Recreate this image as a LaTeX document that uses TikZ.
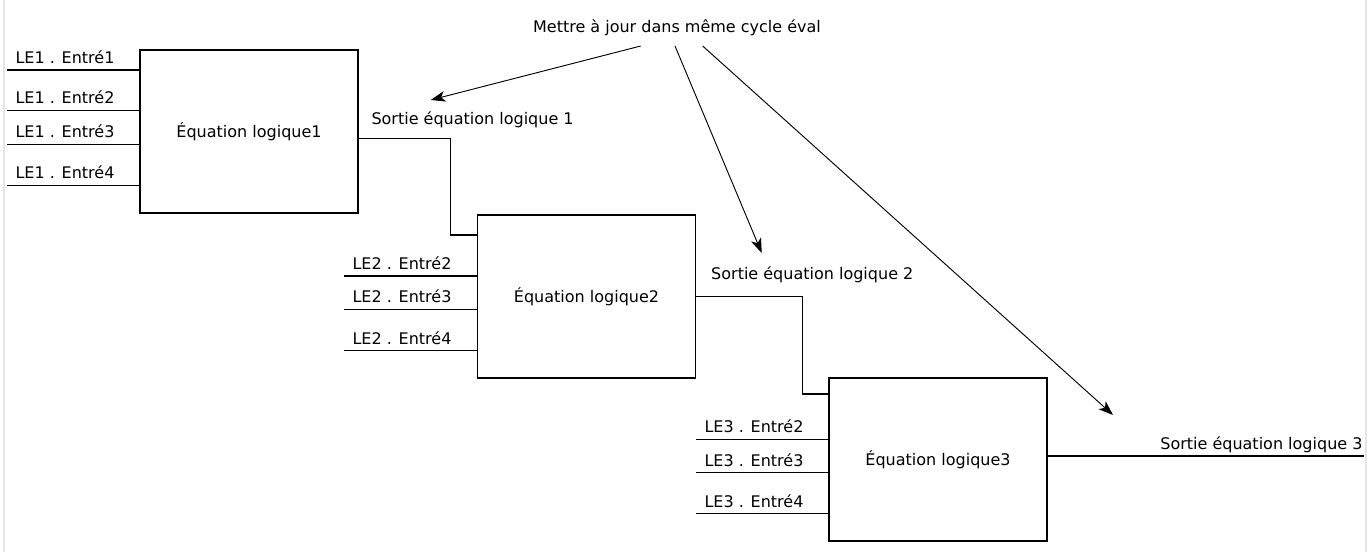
\documentclass[tikz,border=0pt]{standalone}
\usepackage{fontspec}
\setmainfont{DejaVu Sans}
\usetikzlibrary{arrows.meta}

\begin{document}
\begin{tikzpicture}[x=0.75pt,y=-0.75pt,font=\fontsize{12}{14}\selectfont,line width=0.8pt,
  logicbox/.style={draw,minimum width=163.5pt,minimum height=122.25pt,outer sep=0pt},
  inlabel/.style={anchor=base west,xshift=6pt,yshift=5pt,inner sep=0pt},
  outlabel/.style={anchor=base west,inner sep=0pt},
  update/.style={line width=0.7pt,-{Stealth[length=11pt,width=8pt,inset=3pt]}}]
  \useasboundingbox (0,0) rectangle (1367,552);
  \draw[gray!20,line width=1.2pt] (4,0) -- (4,552); \draw[gray!20,line width=1.2pt] (1366,0) -- (1366,552);
  % boxes
  \node[logicbox] (eq1) at (249,131.5) {Équation logique1};
  \node[logicbox] (eq2) at (586.5,296.5) {Équation logique2};
  \node[logicbox] (eq3) at (938,459.5) {Équation logique3};
  % inputs
  \coordinate (in11) at (7,70); \coordinate (in12) at (7,110.3); \coordinate (in13) at (7,144.3); \coordinate (in14) at (7,185.3);
  \draw (in11) node[inlabel] (lab11) {LE1 . Entré1} -- (eq1.west |- in11);
  \draw (in12) node[inlabel] (lab12) {LE1 . Entré2} -- (eq1.west |- in12);
  \draw (in13) node[inlabel] (lab13) {LE1 . Entré3} -- (eq1.west |- in13);
  \draw (in14) node[inlabel] (lab14) {LE1 . Entré4} -- (eq1.west |- in14);
  \coordinate (in22) at (344,276); \coordinate (in23) at (344,309.3); \coordinate (in24) at (344,350.7);
  \draw (in22) node[inlabel] (lab22) {LE2 . Entré2} -- (eq2.west |- in22);
  \draw (in23) node[inlabel] (lab23) {LE2 . Entré3} -- (eq2.west |- in23);
  \draw (in24) node[inlabel] (lab24) {LE2 . Entré4} -- (eq2.west |- in24);
  \coordinate (in32) at (696,439.3); \coordinate (in33) at (696,472.7); \coordinate (in34) at (696,513.7);
  \draw (in32) node[inlabel] (lab32) {LE3 . Entré2} -- (eq3.west |- in32);
  \draw (in33) node[inlabel] (lab33) {LE3 . Entré3} -- (eq3.west |- in33);
  \draw (in34) node[inlabel] (lab34) {LE3 . Entré4} -- (eq3.west |- in34);
  % outputs
  \coordinate (k1) at (450.7,138.3); \coordinate (k2) at (450.7,235);
  \draw (eq1.east |- k1) -- (k1) -- (k2) -- (eq2.west |- k2);
  \coordinate (k3) at (802.3,296.7); \coordinate (k4) at (802.3,394);
  \draw (eq2.east |- k3) -- (k3) -- (k4) -- (eq3.west |- k4);
  \coordinate (out3) at (1364,456);
  \draw (eq3.east |- out3) -- (out3);
  \node[outlabel] (sortie1) at (371,124.5) {Sortie équation logique 1};
  \node[outlabel] (sortie2) at (710.7,279.5) {Sortie équation logique 2};
  \node[anchor=base east,inner sep=0pt] (sortie3) at (1363,449.3) {Sortie équation logique 3};
  % update arrows
  \node[anchor=base,inner sep=0pt] (cycle) at (677,32.5) {Mettre à jour dans même cycle éval};
  \coordinate (a1) at (640.7,46); \coordinate (a2) at (675,46); \coordinate (a3) at (702.7,46);
  \coordinate (t1) at (430.7,100); \coordinate (t2) at (761.7,253); \coordinate (t3) at (1113,415);
  \draw[update] (a1) -- (t1); \draw[update] (a2) -- (t2); \draw[update] (a3) -- (t3);
\end{tikzpicture}
\end{document}
